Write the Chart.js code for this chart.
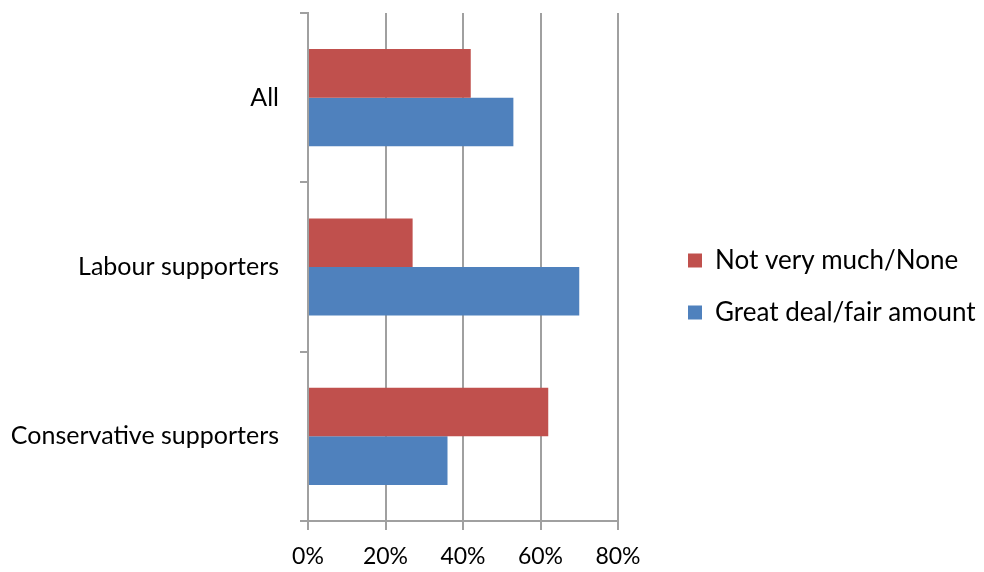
<!DOCTYPE html>
<html>
<head>
<meta charset="utf-8">
<script src="https://cdn.jsdelivr.net/npm/chart.js@4"></script>
<style>
    html, body { margin: 0; padding: 0; background: #fff; }
    #wrap { width: 984px; height: 572px; }
</style>
</head>
<body>
<div id="wrap"><canvas id="support-chart"></canvas></div>
<script>
// Data
const categories = ['All', 'Labour supporters', 'Conservative supporters'];
const notVeryMuch = [42, 27, 62];
const greatDeal = [53, 70, 36];
const xTickValues = [0, 20, 40, 60, 80];

const seriesNames = ['Not very much/None', 'Great deal/fair amount'];
const red = '#C0504D';
const blue = '#4F81BD';
const axisGrey = '#a0a0a0';
const fontFamily = 'Lato, "Open Sans", sans-serif';

// nudge the legend sideways/up after layout (Chart.js puts it flush to the plot
// and caps its width, which clips the longer label)
const legendNudge = {
    id: 'legendNudge',
    afterLayout(chart) {
        const lg = chart.legend;
        if (!lg) return;
        lg.left += 44;
        lg.right = chart.width;
        lg.width = lg.right - lg.left;
        lg.top -= 6; lg.bottom -= 6;
    }
};

const ctx = document.getElementById('support-chart');
new Chart(ctx, {
    type: 'bar',
    data: {
        labels: categories,
        datasets: [
            {
                label: seriesNames[0],
                data: notVeryMuch,
                backgroundColor: red,
                borderWidth: 0,
                categoryPercentage: 0.574,
                barPercentage: 1
            },
            {
                label: seriesNames[1],
                data: greatDeal,
                backgroundColor: blue,
                borderWidth: 0,
                categoryPercentage: 0.574,
                barPercentage: 1
            }
        ]
    },
    options: {
        indexAxis: 'y',
        responsive: true,
        maintainAspectRatio: false,
        animation: false,
        layout: {
            padding: { top: 13, right: 0, bottom: 0, left: 0 }
        },
        scales: {
            x: {
                type: 'linear',
                min: 0,
                max: 80,
                afterBuildTicks: s => { s.ticks = xTickValues.map(v => ({ value: v })); },
                afterFit: s => { s.height = 51; s.paddingRight = 366; },
                ticks: {
                    callback: v => v + '%',
                    color: '#000',
                    padding: 13,
                    font: { family: fontFamily, size: 23 }
                },
                grid: {
                    color: axisGrey,
                    lineWidth: 2,
                    tickLength: 9
                },
                border: { color: axisGrey, width: 2 }
            },
            y: {
                afterFit: s => { s.width = 308; s.paddingTop = 0; s.paddingBottom = 0; },
                ticks: {
                    color: '#000',
                    padding: 21,
                    font: { family: fontFamily, size: 25 }
                },
                grid: {
                    offset: true,
                    drawOnChartArea: false,
                    color: axisGrey,
                    lineWidth: 2,
                    tickLength: 8
                },
                border: { color: axisGrey, width: 2 }
            }
        },
        plugins: {
            legend: {
                position: 'right',
                labels: {
                    boxWidth: 14,
                    boxHeight: 14,
                    padding: 26,
                    color: '#000',
                    font: { family: fontFamily, size: 26 }
                }
            },
            tooltip: { enabled: false }
        }
    },
    plugins: [legendNudge]
});
</script>
</body>
</html>
